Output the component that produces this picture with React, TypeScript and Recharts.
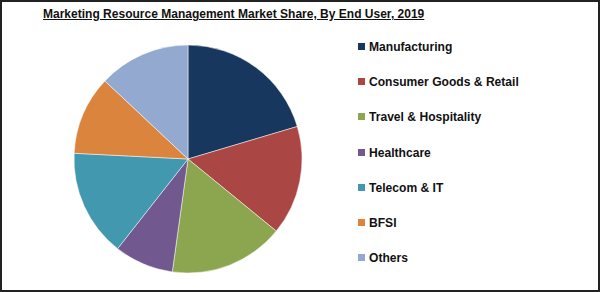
import { PieChart, Pie, Cell } from 'recharts';

const categories = [
  'Manufacturing',
  'Consumer Goods & Retail',
  'Travel & Hospitality',
  'Healthcare',
  'Telecom & IT',
  'BFSI',
  'Others',
];
const shares = [20.4, 15.5, 16.3, 8.4, 15.2, 11.2, 13.0];
const colors = ['#17375E', '#AA4643', '#8CA64F', '#71588F', '#4198AF', '#DB843D', '#93A9CF'];

const title = 'Marketing Resource Management Market Share, By End User, 2019';

const data = categories.map((name, i) => ({ name, value: shares[i] }));

const font = 'Liberation Sans, Arial, sans-serif';

const LegendList = () => (
  <div style={{ position: 'absolute', left: 356, top: 27 }}>
    {categories.map((name, i) => (
      <div
        key={name}
        style={{ display: 'flex', alignItems: 'center', height: 35.2 }}
      >
        <span
          style={{
            width: 7,
            height: 7,
            background: colors[i],
            display: 'inline-block',
            marginRight: 4,
            flexShrink: 0,
          }}
        />
        <span
          style={{
            fontFamily: font,
            fontWeight: 'bold',
            fontSize: 13,
            color: '#111',
            whiteSpace: 'nowrap',
            display: 'inline-block',
            transform: 'scaleX(0.93)',
            transformOrigin: 'left center',
          }}
        >
          {name}
        </span>
      </div>
    ))}
  </div>
);

export default function App() {
  return (
    <div
      style={{
        position: 'absolute',
        left: 0,
        top: 0,
        width: 600,
        height: 292,
        boxSizing: 'border-box',
        border: '2px solid #222',
        background: '#fff',
      }}
    >
      <div
        style={{
          position: 'absolute',
          left: 41,
          top: 4,
          fontFamily: font,
          fontWeight: 'bold',
          fontSize: 13.5,
          textDecoration: 'underline',
          color: '#111',
          whiteSpace: 'nowrap',
          transform: 'scaleX(0.89)',
          transformOrigin: 'left center',
        }}
      >
        {title}
      </div>
      <div style={{ position: 'absolute', left: -2, top: -2 }}>
        <PieChart width={600} height={292} margin={{ top: 0, right: 0, bottom: 0, left: 0 }}>
          <Pie
            data={data}
            dataKey="value"
            nameKey="name"
            cx={188}
            cy={159}
            outerRadius={114}
            startAngle={90}
            endAngle={-270}
            stroke="#ffffff"
            strokeWidth={0.5}
            isAnimationActive={false}
          >
            {data.map((d, i) => (
              <Cell key={d.name} fill={colors[i]} />
            ))}
          </Pie>
        </PieChart>
      </div>
      <LegendList />
    </div>
  );
}
